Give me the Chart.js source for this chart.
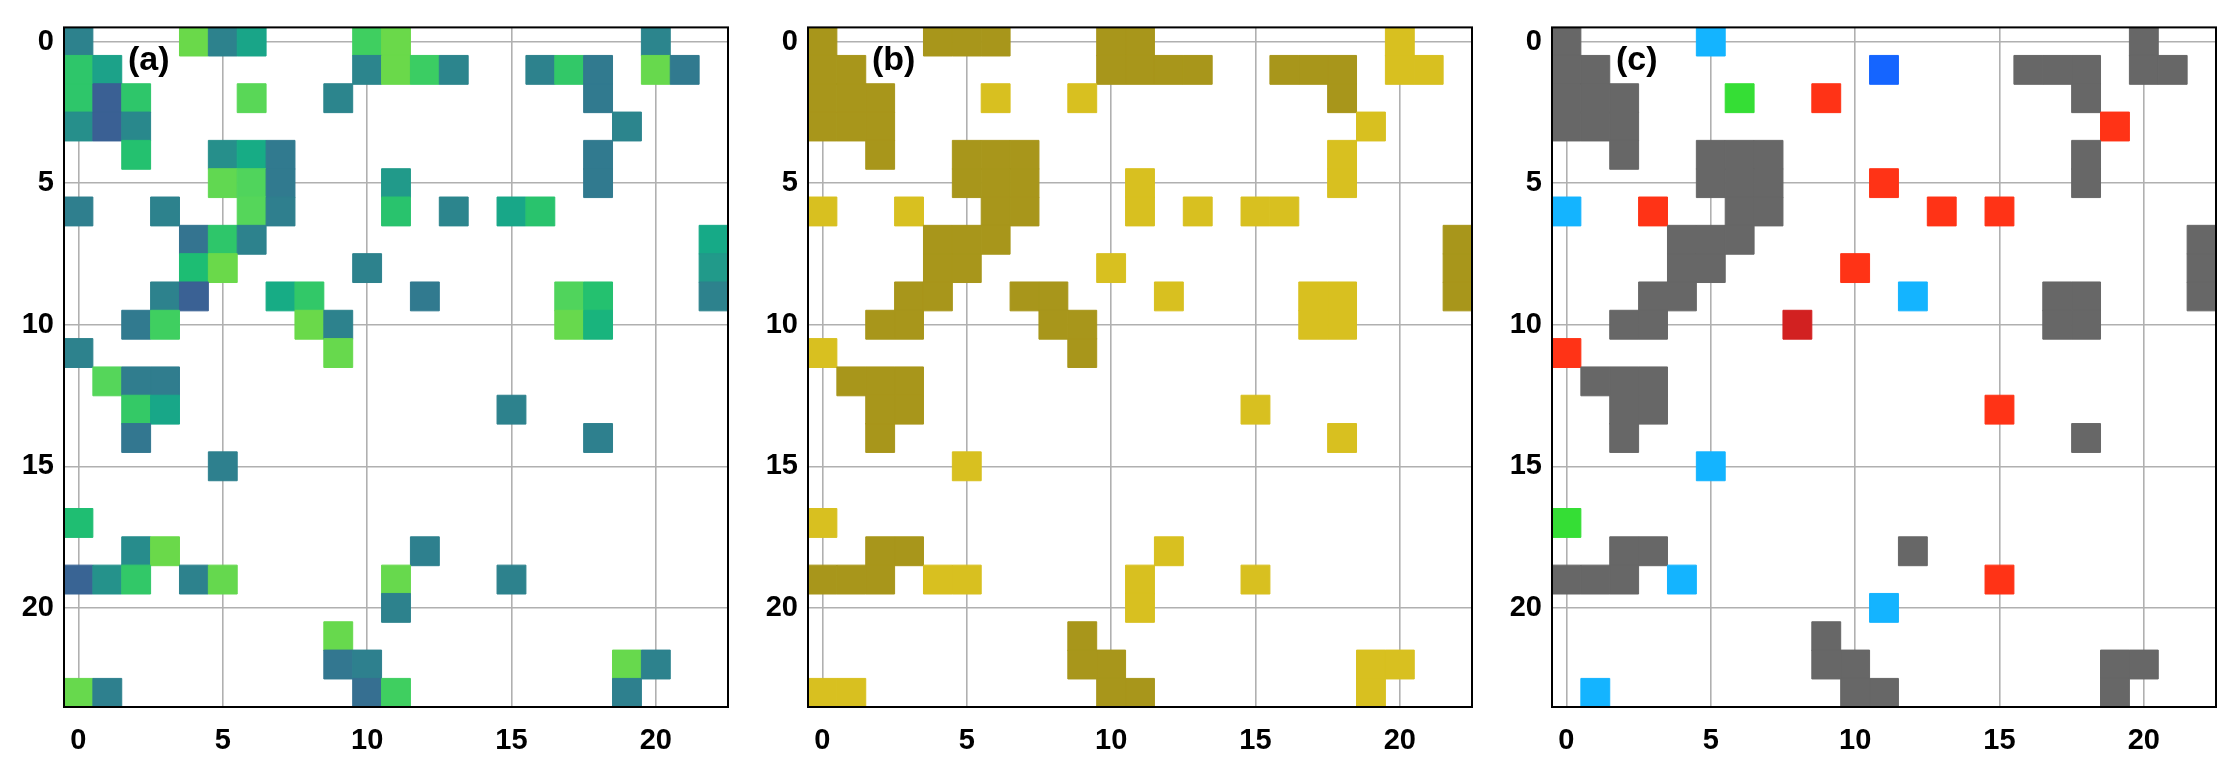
<!DOCTYPE html>
<html>
<head>
<meta charset="utf-8">
<script src="https://cdn.jsdelivr.net/npm/chart.js@4.4.1/dist/chart.umd.min.js"></script>
<style>
html,body{margin:0;padding:0;background:#fff;width:2230px;height:766px;overflow:hidden}
canvas{position:absolute;top:0}
</style>
</head>
<body>
<canvas id="ca" width="726" height="766" style="left:14px"></canvas>
<canvas id="cb" width="726" height="766" style="left:758px"></canvas>
<canvas id="cc" width="726" height="766" style="left:1502px"></canvas>
<script>
// ---------------- DATA ----------------
const xTicks = [0, 5, 10, 15, 20];
const yTicks = [0, 5, 10, 15, 20];
const nCols = 23;   // columns 0..22
const nRows = 24;   // rows 0..23
const panelLabels = ['(a)', '(b)', '(c)'];

// panel (a): [column, row, value 0..1]
const cellsA = [
  [0,0,.28],[4,0,1],[5,0,.28],[6,0,.52],[10,0,.8],[11,0,1],[20,0,.3],
  [0,1,.72],[1,1,.5],[10,1,.3],[11,1,1],[12,1,.78],[13,1,.3],[16,1,.28],[17,1,.74],[18,1,.22],[20,1,.98],[21,1,.22],
  [0,2,.72],[1,2,.02],[2,2,.72],[6,2,.9],[9,2,.3],[18,2,.22],
  [0,3,.38],[1,3,.02],[2,3,.33],[19,3,.3],
  [2,4,.68],[5,4,.38],[6,4,.56],[7,4,.22],[18,4,.22],
  [5,5,.95],[6,5,.86],[7,5,.22],[11,5,.45],[18,5,.22],
  [0,6,.25],[3,6,.28],[6,6,.88],[7,6,.25],[11,6,.7],[13,6,.3],[15,6,.53],[16,6,.7],
  [4,7,.18],[5,7,.72],[6,7,.28],[22,7,.55],
  [4,8,.65],[5,8,1],[10,8,.28],[22,8,.45],
  [3,9,.28],[4,9,.03],[7,9,.56],[8,9,.74],[12,9,.22],[17,9,.86],[18,9,.68],[22,9,.28],
  [2,10,.22],[3,10,.8],[8,10,1],[9,10,.28],[17,10,.98],[18,10,.6],
  [0,11,.28],[9,11,.98],
  [1,12,.88],[2,12,.24],[3,12,.24],
  [2,13,.75],[3,13,.53],[15,13,.28],
  [2,14,.2],[18,14,.26],
  [5,15,.26],
  [0,17,.66],
  [2,18,.36],[3,18,1],[12,18,.26],
  [0,19,.05],[1,19,.4],[2,19,.74],[4,19,.28],[5,19,.97],[11,19,.98],[15,19,.28],
  [11,20,.28],
  [9,21,.98],
  [9,22,.2],[10,22,.26],[19,22,.98],[20,22,.28],
  [0,23,.98],[1,23,.26],[10,23,.15],[11,23,.8],[19,23,.26]
];

// panel (b): [column, row, class]  1 = dark, 2 = light
const cellsB = [
  [0,0,1],[4,0,1],[5,0,1],[6,0,1],[10,0,1],[11,0,1],[20,0,2],
  [0,1,1],[1,1,1],[10,1,1],[11,1,1],[12,1,1],[13,1,1],[16,1,1],[17,1,1],[18,1,1],[20,1,2],[21,1,2],
  [0,2,1],[1,2,1],[2,2,1],[18,2,1],[6,2,2],[9,2,2],
  [0,3,1],[1,3,1],[2,3,1],[19,3,2],
  [2,4,1],[5,4,1],[6,4,1],[7,4,1],[18,4,2],
  [5,5,1],[6,5,1],[7,5,1],[11,5,2],[18,5,2],
  [6,6,1],[7,6,1],[0,6,2],[3,6,2],[11,6,2],[13,6,2],[15,6,2],[16,6,2],
  [4,7,1],[5,7,1],[6,7,1],[22,7,1],
  [4,8,1],[5,8,1],[22,8,1],[10,8,2],
  [3,9,1],[4,9,1],[7,9,1],[8,9,1],[22,9,1],[12,9,2],[17,9,2],[18,9,2],
  [2,10,1],[3,10,1],[8,10,1],[9,10,1],[17,10,2],[18,10,2],
  [9,11,1],[0,11,2],
  [1,12,1],[2,12,1],[3,12,1],
  [2,13,1],[3,13,1],[15,13,2],
  [2,14,1],[18,14,2],
  [5,15,2],
  [0,17,2],
  [2,18,1],[3,18,1],[12,18,2],
  [0,19,1],[1,19,1],[2,19,1],[4,19,2],[5,19,2],[11,19,2],[15,19,2],
  [11,20,2],
  [9,21,1],
  [9,22,1],[10,22,1],[19,22,2],[20,22,2],
  [10,23,1],[11,23,1],[0,23,2],[1,23,2],[19,23,2]
];

// panel (c): [column, row, class] 1 = gray, 2 = light blue, 3 = blue, 4 = green, 5 = red, 6 = dark red
const cellsC = [
  [0,0,1],[20,0,1],[5,0,2],
  [0,1,1],[1,1,1],[16,1,1],[17,1,1],[18,1,1],[20,1,1],[21,1,1],[11,1,3],
  [0,2,1],[1,2,1],[2,2,1],[18,2,1],[6,2,4],[9,2,5],
  [0,3,1],[1,3,1],[2,3,1],[19,3,5],
  [2,4,1],[5,4,1],[6,4,1],[7,4,1],[18,4,1],
  [5,5,1],[6,5,1],[7,5,1],[18,5,1],[11,5,5],
  [6,6,1],[7,6,1],[0,6,2],[3,6,5],[13,6,5],[15,6,5],
  [4,7,1],[5,7,1],[6,7,1],[22,7,1],
  [4,8,1],[5,8,1],[22,8,1],[10,8,5],
  [3,9,1],[4,9,1],[17,9,1],[18,9,1],[22,9,1],[12,9,2],
  [2,10,1],[3,10,1],[17,10,1],[18,10,1],[8,10,6],
  [0,11,5],
  [1,12,1],[2,12,1],[3,12,1],
  [2,13,1],[3,13,1],[15,13,5],
  [2,14,1],[18,14,1],
  [5,15,2],
  [0,17,4],
  [2,18,1],[3,18,1],[12,18,1],
  [0,19,1],[1,19,1],[2,19,1],[4,19,2],[15,19,5],
  [11,20,2],
  [9,21,1],
  [9,22,1],[10,22,1],[19,22,1],[20,22,1],
  [10,23,1],[11,23,1],[19,23,1],[1,23,2]
];

// ---------------- STYLE ----------------
const FONT = "'Liberation Sans', Arial, Helvetica, sans-serif";
const cmapA = [
  [0.00,'#3b5e95'],[0.15,'#366f91'],[0.25,'#2f7f8e'],[0.35,'#288a8c'],[0.45,'#219a8a'],
  [0.55,'#16aa87'],[0.65,'#1dbd73'],[0.72,'#2ec66a'],[0.80,'#3fcf60'],[0.88,'#55d65a'],[1.00,'#6ad94a']
];
const paletteB = {1:'#a8961b', 2:'#d8c020'};
const paletteC = {1:'#676767', 2:'#14b4ff', 3:'#1565ff', 4:'#35de35', 5:'#ff3316', 6:'#d22121'};

function hex2rgb(h){return [parseInt(h.slice(1,3),16),parseInt(h.slice(3,5),16),parseInt(h.slice(5,7),16)];}
function colorA(v){
  for (let i=1;i<cmapA.length;i++){
    if (v <= cmapA[i][0]) {
      const [v0,c0]=cmapA[i-1], [v1,c1]=cmapA[i];
      const t=(v-v0)/(v1-v0), a=hex2rgb(c0), b=hex2rgb(c1);
      return 'rgb('+a.map((x,k)=>Math.round(x+(b[k]-x)*t)).join(',')+')';
    }
  }
  return cmapA[cmapA.length-1][1];
}

const framePlugin = {
  id:'frame',
  afterDraw(chart){
    const {ctx, chartArea:a} = chart;
    ctx.save();
    ctx.strokeStyle='#000'; ctx.lineWidth=2;
    ctx.strokeRect(a.left, a.top, a.right-a.left, a.bottom-a.top);
    const lbl = chart.options.plugins.panelLabel;
    ctx.fillStyle='#000';
    ctx.font='bold 34px '+FONT;
    ctx.textBaseline='middle'; ctx.textAlign='left';
    ctx.fillText(lbl.text, a.left+64, a.top+33);
    ctx.restore();
  }
};

function cellSize(chart){
  const s = chart.scales.x;
  return Math.abs(s.getPixelForValue(1)-s.getPixelForValue(0));
}

function makeChart(id, cells, colorFn, label){
  const data = cells.map(c=>({x:c[0], y:c[1], v:c[2]}));
  const tickFont = {family:FONT, size:29, weight:'bold'};
  return new Chart(document.getElementById(id), {
    type:'scatter',
    data:{datasets:[{
      data,
      pointStyle:'rect',
      pointRadius: c => cellSize(c.chart)/Math.SQRT2,
      pointBackgroundColor: c => colorFn(c.raw.v),
      pointBorderColor: c => colorFn(c.raw.v),
      pointBorderWidth: 1
    }]},
    options:{
      responsive:false, animation:false, events:[],
      layout:{padding:{left:0,right:12,top:15,bottom:9}},
      plugins:{legend:{display:false}, tooltip:{enabled:false}, panelLabel:{text:label}},
      scales:{
        x:{type:'linear', min:-0.5, max:nCols-0.5, position:'bottom', z:1,
          afterBuildTicks: s => { s.ticks = xTicks.map(v=>({value:v})); },
          afterFit: s => { s.height = 50; },
          grid:{color:'#b0b0b0', lineWidth:1.6, drawTicks:false},
          border:{display:false},
          ticks:{color:'#000', font:tickFont, padding:17, maxRotation:0, autoSkip:false}
        },
        y:{type:'linear', min:-0.5, max:nRows-0.5, reverse:true, position:'left', z:1,
          afterBuildTicks: s => { s.ticks = yTicks.map(v=>({value:v})); },
          afterFit: s => { s.width = 50; },
          grid:{color:'#b0b0b0', lineWidth:1.6, drawTicks:false},
          border:{display:false},
          ticks:{color:'#000', font:tickFont, padding:10, autoSkip:false}
        }
      }
    },
    plugins:[framePlugin]
  });
}

makeChart('ca', cellsA, colorA, panelLabels[0]);
makeChart('cb', cellsB, v=>paletteB[v], panelLabels[1]);
makeChart('cc', cellsC, v=>paletteC[v], panelLabels[2]);
</script>
</body>
</html>
